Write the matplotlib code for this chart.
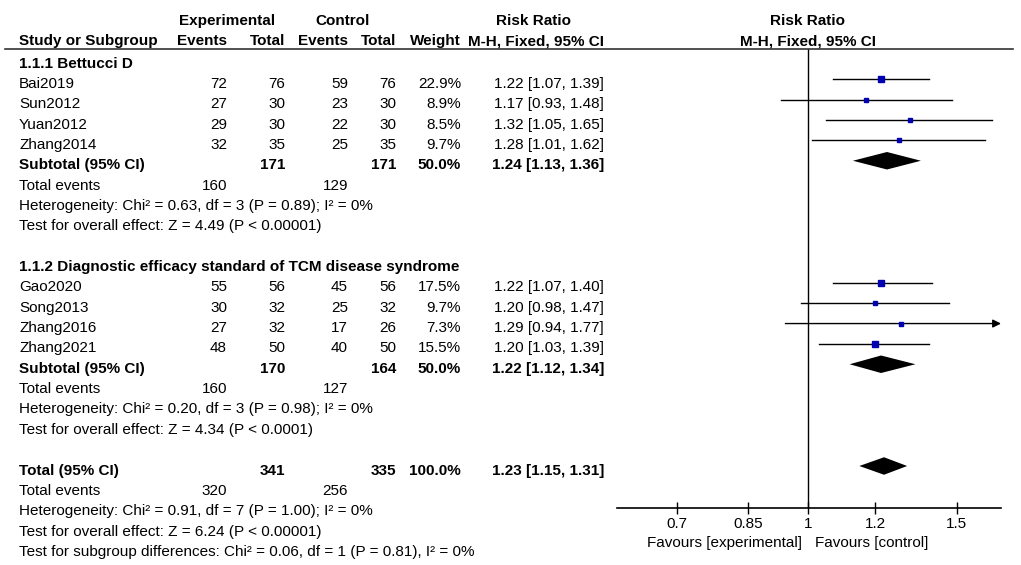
#- Forest plot of risk ratios (RevMan style), recreated with matplotlib

import numpy as np
import matplotlib.pyplot as plt
from matplotlib.transforms import blended_transform_factory, ScaledTranslation
from matplotlib.lines import Line2D
from matplotlib.patches import Polygon
from matplotlib.ticker import NullLocator

plt.rcParams['font.family'] = ['Liberation Sans', 'DejaVu Sans']
plt.rcParams['font.size'] = 11


#- Data:

group_names = ["1.1.1 Bettucci D",
               "1.1.2 Diagnostic efficacy standard of TCM disease syndrome"]
studies = ["Bai2019", "Sun2012", "Yuan2012", "Zhang2014",
           "Gao2020", "Song2013", "Zhang2016", "Zhang2021"]
study_group = [0, 0, 0, 0, 1, 1, 1, 1]
exp_events = [72, 27, 29, 32, 55, 30, 27, 48]
exp_total = [76, 30, 30, 35, 56, 32, 32, 50]
ctl_events = [59, 23, 22, 25, 45, 25, 17, 40]
ctl_total = [76, 30, 30, 35, 56, 32, 26, 50]
weights = [22.9, 8.9, 8.5, 9.7, 17.5, 9.7, 7.3, 15.5]
rr = [1.22, 1.17, 1.32, 1.28, 1.22, 1.20, 1.29, 1.20]
rr_lo = [1.07, 0.93, 1.05, 1.01, 1.07, 0.98, 0.94, 1.03]
rr_hi = [1.39, 1.48, 1.65, 1.62, 1.40, 1.47, 1.77, 1.39]

sub_exp_total = [171, 170]
sub_ctl_total = [171, 164]
sub_weight = [50.0, 50.0]
sub_rr = [1.24, 1.22]
sub_lo = [1.13, 1.12]
sub_hi = [1.36, 1.34]
sub_exp_events = [160, 160]
sub_ctl_events = [129, 127]
sub_het = ["Heterogeneity: Chi\u00b2 = 0.63, df = 3 (P = 0.89); I\u00b2 = 0%",
           "Heterogeneity: Chi\u00b2 = 0.20, df = 3 (P = 0.98); I\u00b2 = 0%"]
sub_test = ["Test for overall effect: Z = 4.49 (P < 0.00001)",
            "Test for overall effect: Z = 4.34 (P < 0.0001)"]

tot_exp_total = 341
tot_ctl_total = 335
tot_weight = 100.0
tot_rr, tot_lo, tot_hi = 1.23, 1.15, 1.31
tot_exp_events = 320
tot_ctl_events = 256
tot_het = "Heterogeneity: Chi\u00b2 = 0.91, df = 7 (P = 1.00); I\u00b2 = 0%"
tot_test = "Test for overall effect: Z = 6.24 (P < 0.00001)"
tot_subdiff = "Test for subgroup differences: Chi\u00b2 = 0.06, df = 1 (P = 0.81), I\u00b2 = 0%"

xticks = [0.7, 0.85, 1, 1.2, 1.5]
xtick_labels = ["0.7", "0.85", "1", "1.2", "1.5"]
xlims = (0.594, 1.692)


#- Figure and plot axes (rows are y units, 0 = first subgroup title):

W, H = 1021, 565
fig = plt.figure(figsize=(W / 100, H / 100), dpi=100)
row0, rowh = 59, 20.35
top_px, bot_px = 48.5, 507.7
ax = fig.add_axes([617 / W, 1 - bot_px / H, (1001 - 617) / W, (bot_px - top_px) / H])
ax.set_xscale('log')
ax.set_xlim(xlims)
ax.set_ylim((bot_px - row0) / rowh, (top_px - row0) / rowh)

# text sits a little below the marks of its row: baseline 8.5 px under row centre
trans = blended_transform_factory(fig.transFigure, ax.transData) + \
    ScaledTranslation(0, -8.5 / 100, fig.dpi_scale_trans)


def tx(px, row, s, ha='right', bold=False):
    ax.text(px / W, row, s, transform=trans, ha=ha, va='baseline',
            fontweight='bold' if bold else 'normal', clip_on=False)


def prow(y):
    # row value whose text is centred on pixel y
    return (y - 3 - row0) / rowh


# column right edges in pixels
c_study, c_ee, c_et, c_ce, c_ct, c_w, c_rr = 19, 227, 285, 348, 396, 461, 604


def ci_text(m, lo, hi):
    return "%.2f [%.2f, %.2f]" % (m, lo, hi)


def diamond(row, m, lo, hi):
    h = 0.43
    ax.add_patch(Polygon([(lo, row), (m, row - h), (hi, row), (m, row + h)],
                         closed=True, color='black', lw=0))


#- Header

h1 = prow(19.5)
hr = prow(39.5)
tx(227, h1, "Experimental", ha='center', bold=True)
tx(343, h1, "Control", ha='center', bold=True)
tx(533, h1, "Risk Ratio", ha='center', bold=True)
tx(808, h1, "Risk Ratio", ha='center', bold=True)
tx(c_study, hr, "Study or Subgroup", ha='left', bold=True)
tx(c_ee, hr, "Events", bold=True)
tx(c_et, hr, "Total", bold=True)
tx(c_ce, hr, "Events", bold=True)
tx(c_ct, hr, "Total", bold=True)
tx(c_w, hr, "Weight", bold=True)
tx(c_rr, hr, "M-H, Fixed, 95% CI", bold=True)
tx(808, hr, "M-H, Fixed, 95% CI", ha='center', bold=True)
fig.add_artist(Line2D([5 / W, 1013 / W], [1 - top_px / H] * 2,
                      transform=fig.transFigure, color='#333333', lw=1.2))


#- Subgroups

row = 0
for g, name in enumerate(group_names):
    tx(c_study, row, name, ha='left', bold=True)
    row += 1
    for i in range(len(studies)):
        if study_group[i] != g:
            continue
        tx(c_study, row, studies[i], ha='left')
        tx(c_ee, row, str(exp_events[i]))
        tx(c_et, row, str(exp_total[i]))
        tx(c_ce, row, str(ctl_events[i]))
        tx(c_ct, row, str(ctl_total[i]))
        tx(c_w, row, "%.1f%%" % weights[i])
        tx(c_rr, row, ci_text(rr[i], rr_lo[i], rr_hi[i]))
        if rr_hi[i] > xlims[1]:
            ax.annotate('', xy=(xlims[1], row), xytext=(rr_lo[i], row),
                        arrowprops=dict(arrowstyle='-|>', color='black', lw=1,
                                        mutation_scale=12, shrinkA=0, shrinkB=0),
                        annotation_clip=False)
        else:
            ax.plot([rr_lo[i], rr_hi[i]], [row, row], color='black', lw=1)
        ax.plot(rr[i], row, marker='s', ms=np.sqrt(weights[i]) * 1.0,
                color='#0000b0', mec='#0000b0', ls='none', zorder=3)
        row += 1
    tx(c_study, row, "Subtotal (95% CI)", ha='left', bold=True)
    tx(c_et, row, str(sub_exp_total[g]), bold=True)
    tx(c_ct, row, str(sub_ctl_total[g]), bold=True)
    tx(c_w, row, "%.1f%%" % sub_weight[g], bold=True)
    tx(c_rr, row, ci_text(sub_rr[g], sub_lo[g], sub_hi[g]), bold=True)
    diamond(row, sub_rr[g], sub_lo[g], sub_hi[g])
    row += 1
    tx(c_study, row, "Total events", ha='left')
    tx(c_ee, row, str(sub_exp_events[g]))
    tx(c_ce, row, str(sub_ctl_events[g]))
    row += 1
    tx(c_study, row, sub_het[g], ha='left')
    row += 1
    tx(c_study, row, sub_test[g], ha='left')
    row += 2


#- Overall total

tx(c_study, row, "Total (95% CI)", ha='left', bold=True)
tx(c_et, row, str(tot_exp_total), bold=True)
tx(c_ct, row, str(tot_ctl_total), bold=True)
tx(c_w, row, "%.1f%%" % tot_weight, bold=True)
tx(c_rr, row, ci_text(tot_rr, tot_lo, tot_hi), bold=True)
diamond(row, tot_rr, tot_lo, tot_hi)
tx(c_study, row + 1, "Total events", ha='left')
tx(c_ee, row + 1, str(tot_exp_events))
tx(c_ce, row + 1, str(tot_ctl_events))
tx(c_study, row + 2, tot_het, ha='left')
tx(c_study, row + 3, tot_test, ha='left')
tx(c_study, row + 4, tot_subdiff, ha='left')


#- Axis styling

ax.axvline(1, color='black', lw=1)
for s in ['top', 'left', 'right']:
    ax.spines[s].set_visible(False)
ax.spines['bottom'].set_linewidth(1.2)
ax.set_yticks([])
ax.set_xticks(xticks)
ax.set_xticklabels(xtick_labels)
ax.xaxis.set_minor_locator(NullLocator())
ax.tick_params(axis='x', direction='inout', length=8, width=1, pad=3, labelsize=11)
ax.patch.set_visible(False)

fav_row = prow(542)
tx(802, fav_row, "Favours [experimental]", ha='right')
tx(815, fav_row, "Favours [control]", ha='left')

plt.savefig('out.png', dpi=100)
